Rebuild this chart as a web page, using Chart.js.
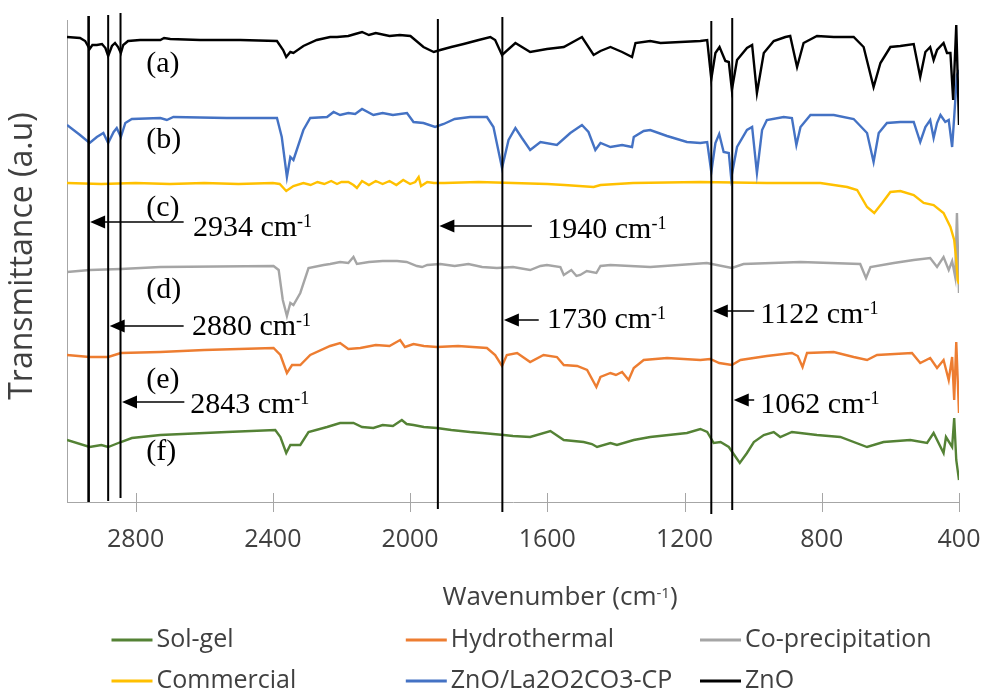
<!DOCTYPE html>
<html>
<head>
<meta charset="utf-8">
<script src="https://cdn.jsdelivr.net/npm/chart.js@4.4.1/dist/chart.umd.min.js"></script>
<style>
  body { margin: 0; background: #fff; }
  canvas { display: block; }
</style>
</head>
<body>
<canvas id="ftir" width="982" height="692"></canvas>
<script>
/* FTIR spectra, [wavenumber cm-1, transmittance a.u. (stacked offset)] */
const solGel = [[3000,62],[2934,55],[2900,57],[2880,55],[2843,60],[2811,64],[2728,67],[2534,70],[2393,72],[2378,65],[2361,49],[2349,57],[2320,57],[2296,70],[2242,75],[2204,79],[2165,79],[2140,75],[2107,74],[2080,77],[2050,76],[2024,82],[2010,78],[1990,77],[1960,75],[1922,74],[1880,72],[1825,70],[1790,69],[1727,67],[1700,66],[1650,65],[1591,71],[1552,62],[1494,60],[1470,58],[1455,55],[1416,59],[1397,57],[1348,62],[1300,65],[1193,69],[1154,73],[1134,70],[1115,59],[1095,60],[1071,55],[1039,39],[1018,49],[998,60],[969,67],[940,70],[921,65],[887,70],[814,67],[746,65],[668,55],[620,60],[542,62],[493,59],[474,69],[445,49],[438,65],[420,55],[414,84],[408,42],[400,22]];
const hydrothermal = [[3000,147],[2934,145],[2880,145],[2843,149],[2728,150],[2600,152],[2398,154],[2378,147],[2359,129],[2344,137],[2320,137],[2291,147],[2233,156],[2204,159],[2180,153],[2145,154],[2100,157],[2060,156],[2029,162],[2015,155],[1990,158],[1960,156],[1922,155],[1860,156],[1776,154],[1752,147],[1732,136],[1718,147],[1688,149],[1650,140],[1611,147],[1572,145],[1552,137],[1513,136],[1484,132],[1457,115],[1445,125],[1416,129],[1400,127],[1382,130],[1363,122],[1348,134],[1319,142],[1251,144],[1154,142],[1125,143],[1099,139],[1062,137],[1037,142],[960,146],[887,149],[870,146],[856,135],[843,149],[765,150],[707,145],[668,142],[639,147],[537,149],[513,139],[484,144],[464,134],[445,142],[430,122],[420,145],[414,102],[408,160],[400,89]];
const coPrecip = [[3000,230],[2934,232],[2843,233],[2728,235],[2398,236],[2383,232],[2371,202],[2359,186],[2349,199],[2340,197],[2320,209],[2296,234],[2252,237],[2233,238],[2204,240],[2180,239],[2165,245],[2155,238],[2120,240],[2080,241],[2038,241],[2010,240],[1980,236],[1965,235],[1950,237],[1912,238],[1870,236],[1830,238],[1790,235],[1747,234],[1700,235],[1650,232],[1620,236],[1601,237],[1562,235],[1552,227],[1530,232],[1515,226],[1504,227],[1485,231],[1457,229],[1445,236],[1416,237],[1300,235],[1135,239],[1062,234],[1028,238],[862,240],[688,238],[671,224],[658,235],[590,239],[532,242],[484,244],[464,235],[445,245],[430,232],[420,241],[411,225],[406,289],[400,209]];
const commercial = [[3000,319],[2900,318],[2800,319],[2700,318],[2600,319],[2500,318],[2400,319],[2380,318],[2361,311],[2340,316],[2311,319],[2290,317],[2270,320],[2250,318],[2230,321],[2213,318],[2200,320],[2180,320],[2165,317],[2155,314],[2140,321],[2120,317],[2100,321],[2080,318],[2060,321],[2040,317],[2020,322],[2000,318],[1985,320],[1975,325],[1968,316],[1950,320],[1930,319],[1900,319],[1800,320],[1700,319],[1600,318],[1550,317],[1465,315],[1445,317],[1350,319],[1154,320],[960,319],[804,319],[726,315],[697,312],[668,295],[647,289],[624,299],[600,310],[571,311],[532,307],[503,299],[474,297],[445,289],[425,275],[414,262],[408,242],[404,222],[400,218]];
const znoLaCP = [[3000,377],[2962,367],[2934,359],[2913,365],[2894,369],[2880,359],[2864,370],[2855,374],[2843,365],[2830,379],[2811,383],[2728,384],[2709,382],[2690,385],[2534,384],[2388,384],[2374,365],[2359,325],[2349,345],[2340,342],[2311,372],[2291,384],[2242,385],[2223,390],[2204,387],[2180,389],[2160,388],[2140,393],[2107,387],[2080,389],[2050,387],[2009,389],[1990,380],[1961,379],[1927,375],[1902,378],[1870,383],[1825,385],[1776,385],[1757,375],[1732,334],[1713,362],[1693,374],[1674,364],[1650,352],[1620,360],[1572,357],[1533,369],[1499,377],[1480,370],[1460,352],[1445,359],[1416,355],[1382,357],[1353,355],[1348,365],[1319,371],[1300,372],[1251,366],[1193,360],[1154,359],[1134,360],[1122,330],[1110,359],[1099,368],[1086,350],[1071,349],[1064,324],[1047,355],[1018,372],[1003,375],[989,329],[974,372],[960,382],[911,385],[887,384],[874,357],[862,375],[833,387],[765,387],[707,383],[668,369],[649,340],[634,369],[610,379],[571,380],[532,380],[513,360],[498,375],[484,382],[474,364],[464,379],[454,387],[440,380],[430,382],[420,355],[414,385],[406,427],[400,432]];
const zno = [[3000,465],[2962,464],[2947,461],[2934,453],[2926,457],[2913,457],[2898,458],[2888,454],[2880,446],[2869,456],[2860,459],[2851,455],[2843,449],[2836,457],[2822,461],[2787,462],[2728,462],[2717,464],[2699,463],[2612,462],[2495,462],[2388,461],[2370,452],[2361,445],[2349,450],[2340,449],[2311,456],[2272,462],[2233,465],[2213,465],[2180,466],[2160,468],[2140,470],[2120,467],[2100,469],[2060,466],[2030,467],[1999,466],[1961,455],[1931,450],[1912,452],[1880,455],[1844,458],[1800,462],[1766,465],[1752,462],[1732,447],[1693,459],[1650,450],[1601,453],[1552,455],[1499,465],[1465,447],[1445,451],[1416,455],[1382,450],[1353,445],[1343,459],[1300,461],[1270,459],[1154,461],[1134,462],[1122,423],[1110,449],[1098,455],[1081,441],[1071,440],[1062,412],[1047,442],[1018,454],[1003,457],[989,409],[969,449],[940,461],[906,465],[892,466],[872,435],[853,459],[814,466],[765,465],[707,465],[678,455],[649,415],[629,439],[600,455],[571,456],[532,458],[513,425],[498,450],[484,455],[474,442],[464,452],[445,459],[435,449],[425,449],[417,402],[408,477],[400,377]];

const seriesNames = ['Sol-gel', 'Hydrothermal', 'Co-precipitation', 'Commercial', 'ZnO/La2O2CO3-CP', 'ZnO'];
const seriesData = [solGel, hydrothermal, coPrecip, commercial, znoLaCP, zno];
const seriesColors = ['#548235', '#ED7D31', '#A5A5A5', '#FFC000', '#4472C4', '#000000'];

const tickVals = [2800, 2400, 2000, 1600, 1200, 800, 400];

// marked bands: where the black lines are drawn and what the callouts say
const peakLineWn = [2937, 2880, 2844, 1919, 1731, 1122, 1061];
const peakLabels = ['2934', '2880', '2843', '1940', '1730', '1122', '1062'];
const sampleTags = ['(a)', '(b)', '(c)', '(d)', '(e)', '(f)'];

// callout layout (in axis units)
const lineSpan = [[486, 0], [487, 1], [489, 4], [483, -7], [485, -10], [481, -12], [484, -8]];
const arrowV = [280, 176, 100, 276, 182, 191, 102];
const tailWn = [2660, 2660, 2658, 1645, 1625, 997, 997];
const textWn = [2633, 2636, 2641, 1600, 1601, 979, 979];
const textV = [266, 167, 89, 264, 174, 179, 89];
const tagWn = 2769;
const tagV = [438, 362, 294, 212, 122, 50];

const gris = '#A6A6A6';
const texto = '#404040';
const serif = '"Liberation Serif", "Times New Roman", serif';
const sans = '"Open Sans", Lato, sans-serif';

function textoSup(ctx, main, sup, x, y, fMain, fSup, rise) {
  ctx.font = fMain;
  ctx.fillText(main, x, y);
  let w = ctx.measureText(main).width;
  ctx.font = fSup;
  ctx.fillText(sup, x + w, y - rise);
  return w + ctx.measureText(sup).width;
}

const dibujos = {
  id: 'dibujos',
  afterDatasetsDraw(chart) {
    const { ctx, chartArea: a, scales: { x, y } } = chart;
    ctx.save();

    /* tick marks crossing the axis */
    ctx.strokeStyle = gris;
    ctx.lineWidth = 1;
    x.ticks.forEach((t, i) => {
      let px = Math.round(x.getPixelForTick(i)) + 0.5;
      ctx.beginPath();
      ctx.moveTo(px, a.bottom - 9);
      ctx.lineTo(px, a.bottom + 10);
      ctx.stroke();
    });

    /* vertical band lines */
    ctx.strokeStyle = '#000';
    peakLineWn.forEach((wn, i) => {
      let px = x.getPixelForValue(wn);
      ctx.lineWidth = i === 0 ? 2.6 : 2;
      ctx.beginPath();
      ctx.moveTo(px, y.getPixelForValue(lineSpan[i][0]));
      ctx.lineTo(px, y.getPixelForValue(lineSpan[i][1]));
      ctx.stroke();
    });

    /* arrows + labels */
    ctx.fillStyle = '#000';
    ctx.textBaseline = 'alphabetic';
    ctx.textAlign = 'left';
    peakLabels.forEach((lab, i) => {
      let tip = x.getPixelForValue(peakLineWn[i]) + 1.5;
      let ay = y.getPixelForValue(arrowV[i]);
      let tail = x.getPixelForValue(tailWn[i]);
      ctx.lineWidth = 1.5;
      ctx.beginPath();
      ctx.moveTo(tip + 10, ay);
      ctx.lineTo(tail, ay);
      ctx.stroke();
      ctx.beginPath();
      ctx.moveTo(tip, ay);
      ctx.lineTo(tip + 15, ay - 6.5);
      ctx.lineTo(tip + 15, ay + 6.5);
      ctx.closePath();
      ctx.fill();
      textoSup(ctx, lab + ' cm', '-1', x.getPixelForValue(textWn[i]), y.getPixelForValue(textV[i]),
        '30px ' + serif, '18px ' + serif, 9);
    });

    ctx.font = '30px ' + serif;
    ctx.textBaseline = 'middle';
    sampleTags.forEach((tag, i) => {
      ctx.fillText(tag, x.getPixelForValue(tagWn), y.getPixelForValue(tagV[i]));
    });
    ctx.restore();
  },
  afterDraw(chart) {
    const { ctx } = chart;
    ctx.save();
    ctx.fillStyle = texto;

    /* x title */
    ctx.textBaseline = 'alphabetic';
    ctx.font = '26px ' + sans;
    let w1 = ctx.measureText('Wavenumber (cm').width;
    ctx.font = '15px ' + sans;
    let w2 = ctx.measureText('-1').width;
    ctx.font = '26px ' + sans;
    let w3 = ctx.measureText(')').width;
    let x0 = 560 - (w1 + w2 + w3) / 2;
    let w = textoSup(ctx, 'Wavenumber (cm', '-1', x0, 605, '26px ' + sans, '15px ' + sans, 7);
    ctx.font = '26px ' + sans;
    ctx.fillText(')', x0 + w, 605);

    /* y title */
    ctx.save();
    ctx.translate(23, 256);
    ctx.rotate(-Math.PI / 2);
    ctx.textAlign = 'center';
    ctx.textBaseline = 'middle';
    ctx.font = '32px ' + sans;
    ctx.fillText('Transmittance (a.u)', 0, 0);
    ctx.restore();

    /* legend, 3 columns x 2 rows */
    const colX = [111.5, 405.8, 700];
    const rowY = [640, 681];
    ctx.font = '25px ' + sans;
    ctx.textBaseline = 'middle';
    ctx.textAlign = 'left';
    chart.data.datasets.forEach((ds, i) => {
      let lx = colX[i % 3], ly = rowY[Math.floor(i / 3)];
      ctx.strokeStyle = ds.borderColor;
      ctx.lineWidth = 3;
      ctx.beginPath();
      ctx.moveTo(lx, ly);
      ctx.lineTo(lx + 41, ly);
      ctx.stroke();
      ctx.fillStyle = texto;
      ctx.fillText(ds.label, lx + 45, ly);
    });
    ctx.restore();
  }
};

const datasets = seriesNames.map((name, i) => ({
  label: name,
  data: seriesData[i].map(p => ({ x: p[0], y: p[1] })),
  borderColor: seriesColors[i],
  borderWidth: 2.4,
  pointRadius: 0,
  tension: 0,
  fill: false,
  order: seriesNames.length - i
}));

new Chart(document.getElementById('ftir').getContext('2d'), {
  type: 'line',
  data: { datasets: datasets },
  options: {
    responsive: false,
    animation: false,
    layout: { padding: { left: 67, top: 20, right: 23, bottom: 0 } },
    plugins: { legend: { display: false }, tooltip: { enabled: false } },
    scales: {
      x: {
        type: 'linear',
        reverse: true,
        min: 400,
        max: 3000,
        afterBuildTicks: s => { s.ticks = tickVals.map(v => ({ value: v })); },
        afterFit: s => { s.height = 190; s.paddingLeft = 0; s.paddingRight = 0; },
        grid: { display: false },
        border: { display: true, color: gris, width: 1 },
        ticks: {
          autoSkip: false,
          maxRotation: 0,
          padding: 15,
          color: texto,
          font: { family: sans, size: 25 },
          callback: v => String(v)
        }
      },
      y: {
        min: 0,
        max: 482,
        afterFit: s => { s.width = 0; s.paddingTop = 0; s.paddingBottom = 0; },
        ticks: { display: false },
        grid: { display: false },
        border: { display: true, color: gris, width: 1 }
      }
    }
  },
  plugins: [dibujos]
});
</script>
</body>
</html>
